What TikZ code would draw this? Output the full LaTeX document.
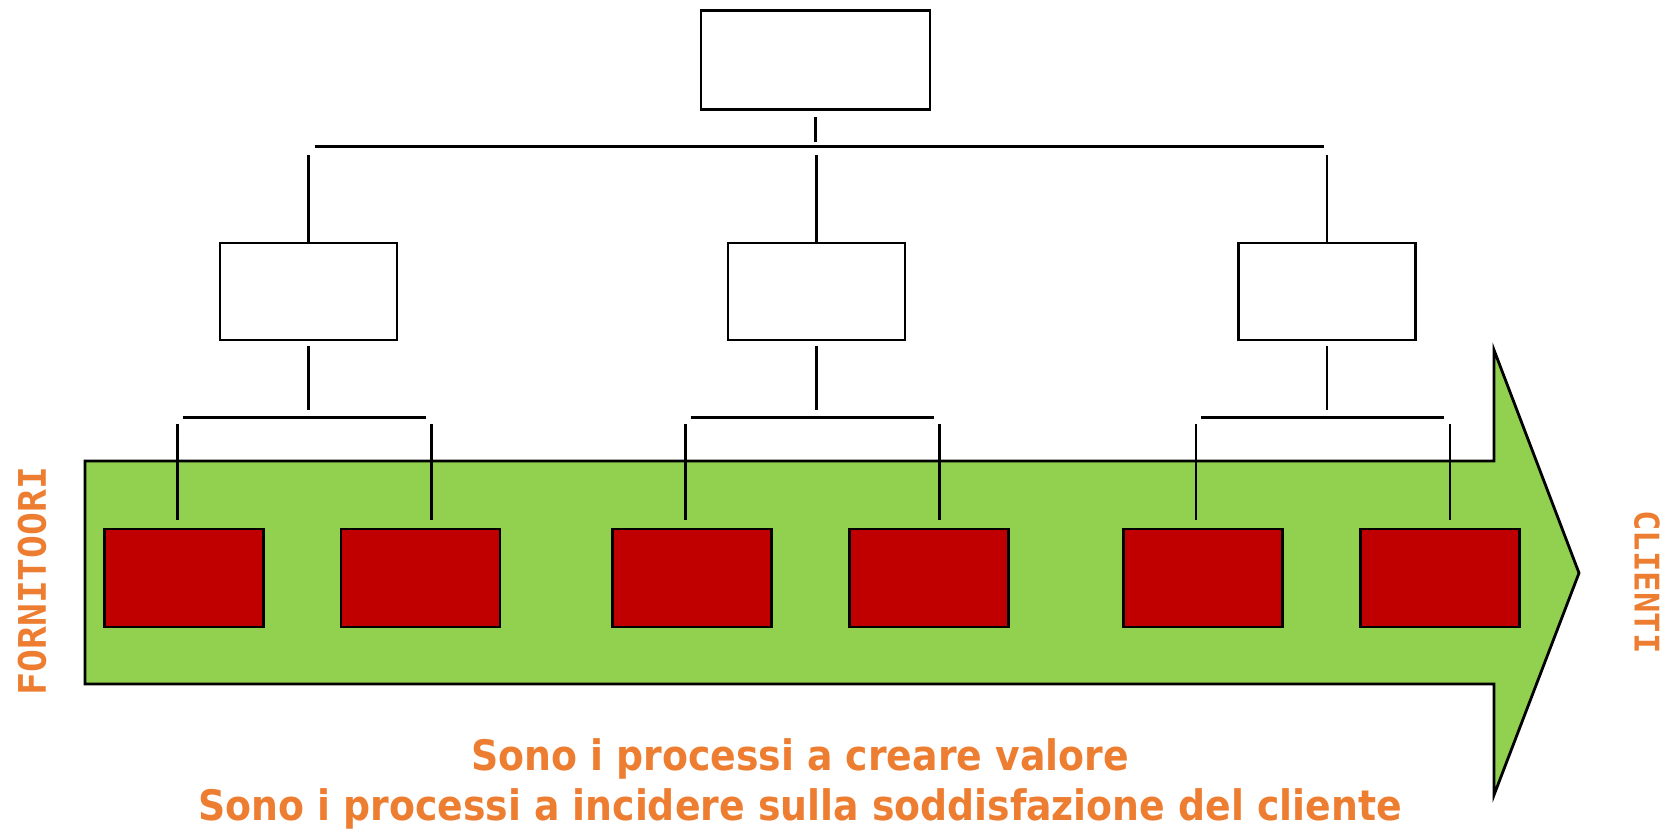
\documentclass[tikz,border=0pt]{standalone}
\usepackage{fontspec}
\setmainfont{DejaVu Sans}
\newfontfamily\sidefont{DejaVu Sans Mono}
\newfontfamily\mottofont{DejaVu Sans Condensed}
\usetikzlibrary{positioning}
\definecolor{flowgreen}{HTML}{92D050}
\definecolor{procred}{HTML}{C00000}
\definecolor{mottoorange}{HTML}{ED7D31}

\begin{document}
\begin{tikzpicture}[x=0.5pt, y=-0.5pt,
  line width=1.4pt,
  basic/.style   = {draw, rectangle, line width=1.4pt, inner sep=0pt, outer sep=0pt},
  root/.style    = {basic, fill=white, minimum width=114.5pt, minimum height=49.5pt},
  area/.style    = {basic, fill=white, minimum width=88.5pt, minimum height=48.5pt},
  proc/.style    = {basic, fill=procred, minimum width=79.5pt, minimum height=49pt},
  side/.style    = {text=mottoorange, font=\sidefont\bfseries\fontsize{#1}{20}\selectfont},
  motto/.style   = {text=mottoorange, anchor=base, font=\mottofont\bfseries\fontsize{21}{24}\selectfont}]

	\useasboundingbox (0,0) rectangle (1666,829);

	% the value stream, from suppliers to customers
	\draw[line width=1.4pt, fill=flowgreen] (85,461) -- (1494,461) -- (1494,350) -- (1579,573)
	  -- (1494,795) -- (1494,684) -- (85,684) -- cycle;

	% root and the three areas
	\node[root] (head) at (815.5,60) {};
	\node[area] (area1) at (308.5,291.5) {};
	\node[area] (area2) at (816.5,291.5) {};
	\node[area] (area3) at (1327,291.5) {};

	% the processes, relatively positioned
	\node[proc] (proc1) at (184,578) {};
	\node[proc, right=38.75pt of proc1] (proc2) {};
	\node[proc, right=56.3pt of proc2] (proc3) {};
	\node[proc, right=39pt of proc3] (proc4) {};
	\node[proc, right=57.5pt of proc4] (proc5) {};
	\node[proc, right=39pt of proc5] (proc6) {};

	% lines from the root to the areas
	\draw ([yshift=-3.8pt]head.south) -- ([yshift=-16.3pt]head.south);
	\draw ([yshift=-18.6pt]head.south -| area1.north) ++(3pt,0) -- ([yshift=-18.6pt,xshift=-1.5pt]head.south -| area3.north);
	\foreach \n in {1,2,3}
	  \draw ([yshift=44pt]area\n.north) -- ([yshift=0.5pt]area\n.north);

	% lines from each area to its processes
	\foreach \n/\a/\b in {1/1/2, 2/3/4, 3/5/6} {
	  \draw ([yshift=-3pt]area\n.south) -- ([yshift=-35pt]area\n.south);
	  \draw ([xshift=-63pt,yshift=-38.8pt]area\n.south) -- ([xshift=58.5pt,yshift=-38.8pt]area\n.south);
	  \draw ([xshift=-65.5pt,yshift=-42pt]area\n.south) -- ([xshift=-65.5pt,yshift=-90pt]area\n.south);
	  \draw ([xshift=61.5pt,yshift=-42pt]area\n.south) -- ([xshift=61.5pt,yshift=-90pt]area\n.south);
	}

	% texts
	\node[side=19, rotate=90] (suppliers) at (32,581) {FORNITOORI};
	\node[side=17, rotate=-90] (customers) at (1647,582) {CLIENTI};
	\node[motto] (motto1) at (800,770) {Sono i processi a creare valore};
	\node[motto] (motto2) at (800,820) {Sono i processi a incidere sulla soddisfazione del cliente};
\end{tikzpicture}
\end{document}
